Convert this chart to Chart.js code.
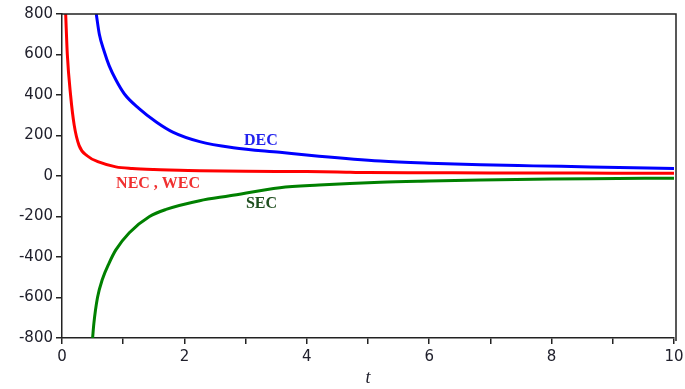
<!DOCTYPE html>
<html>
<head>
<meta charset="utf-8">
<script src="https://cdn.jsdelivr.net/npm/chart.js@4"></script>
<style>
  html, body { margin: 0; padding: 0; background: #fff; }
  #wrap { width: 685px; height: 389px; }
</style>
</head>
<body>
<div id="wrap"><canvas id="energyChart" width="685" height="389"></canvas></div>
<script>
// values
const tNec = [0.06, 0.087, 0.14, 0.2, 0.28, 0.41, 0.61, 0.88, 1.15, 1.5, 1.92, 2.25, 3, 4, 4.5, 5, 6, 7, 8, 9, 10];
const necWec = [800, 600, 400, 250, 150, 100, 68, 45, 37, 32, 29, 26, 23, 22, 20, 17, 16, 15, 15, 14, 14];

const tDec = [0.56, 0.61, 0.69, 0.77, 0.88, 1.02, 1.26, 1.54, 1.81, 2.25, 2.8, 3.56, 4.2, 5.2, 6, 6.84, 7.7, 8.64, 10];
const dec = [800, 700, 615, 545, 475, 405, 333, 267, 217, 170, 140, 117, 98, 74, 63, 55, 50, 45, 37];

const tSec = [0.5, 0.52, 0.58, 0.66, 0.77, 0.88, 1.1, 1.43, 1.7, 2.25, 2.74, 3.56, 4.2, 5.2, 6, 6.84, 8, 8.64, 10];
const sec = [-800, -730, -600, -510, -430, -365, -280, -200, -165, -122, -98, -58, -45, -31, -25, -20, -15, -13, -11];

const xTicks = [0, 2, 4, 6, 8, 10];
const yTicks = [-800, -600, -400, -200, 0, 200, 400, 600, 800];

const curveLabels = [
  { text: "DEC", x: 3.25, y: 172, color: "#2323ee" },
  { text: "NEC , WEC", x: 1.57, y: -40, color: "#f03030" },
  { text: "SEC", x: 3.26, y: -140, color: "#1f4f1f" }
];

function pts(xs, ys) {
  return xs.map((x, i) => ({ x: x, y: ys[i] }));
}

const tickColor = "#20202c";
const tickFont = { family: "'DejaVu Sans', Verdana, sans-serif", size: 15 };

const framePlugin = {
  id: "frame",
  afterDraw(chart) {
    const ctx = chart.ctx;
    const a = chart.chartArea;
    ctx.save();
    ctx.strokeStyle = "#222";
    ctx.lineWidth = 1.5;
    ctx.beginPath();
    ctx.moveTo(a.left - 1, a.top);
    ctx.lineTo(a.right + 2, a.top);
    ctx.lineTo(a.right + 2, a.bottom + 3);
    ctx.stroke();
    // curve names
    ctx.font = "bold 16px 'Liberation Serif', serif";
    ctx.textAlign = "center";
    ctx.textBaseline = "middle";
    curveLabels.forEach(l => {
      ctx.fillStyle = l.color;
      ctx.fillText(l.text, chart.scales.x.getPixelForValue(l.x), chart.scales.y.getPixelForValue(l.y));
    });
    ctx.restore();
  }
};

const lineDefaults = {
  borderWidth: 3,
  pointRadius: 0,
  fill: false,
  cubicInterpolationMode: "monotone"
};

new Chart(document.getElementById("energyChart").getContext("2d"), {
  type: "line",
  data: {
    datasets: [
      Object.assign({ label: "NEC , WEC", data: pts(tNec, necWec), borderColor: "#ff0000" }, lineDefaults),
      Object.assign({ label: "DEC", data: pts(tDec, dec), borderColor: "#0000ff" }, lineDefaults),
      Object.assign({ label: "SEC", data: pts(tSec, sec), borderColor: "#008000" }, lineDefaults)
    ]
  },
  options: {
    responsive: false,
    animation: false,
    layout: { padding: { top: 14, right: 11, left: 0, bottom: 0 } },
    plugins: { legend: { display: false }, tooltip: { enabled: false } },
    scales: {
      x: {
        type: "linear",
        min: 0,
        max: 10,
        afterBuildTicks: s => { s.ticks = [0,1,2,3,4,5,6,7,8,9,10].map(v => ({ value: v })); },
        ticks: {
          color: tickColor,
          font: tickFont,
          padding: 4,
          maxRotation: 0,
          autoSkip: false,
          callback: v => xTicks.includes(v) ? String(v) : ""
        },
        grid: { drawOnChartArea: false, tickLength: 6, color: "#222", lineWidth: 1.5 },
        border: { color: "#222", width: 1.5 },
        title: {
          display: true,
          text: "t",
          color: tickColor,
          font: { family: "'Liberation Serif', serif", size: 18, style: "italic" },
          padding: { top: 0, bottom: 0 }
        },
        afterFit: s => { s.height = 51; s.paddingRight = 0; s.paddingLeft = 0; }
      },
      y: {
        min: -800,
        max: 800,
        afterBuildTicks: s => { s.ticks = yTicks.map(v => ({ value: v })); },
        ticks: {
          color: tickColor,
          font: tickFont,
          padding: 3
        },
        grid: { drawOnChartArea: false, tickLength: 6, color: "#222", lineWidth: 1.5 },
        border: { color: "#222", width: 1.5 },
        afterFit: s => { s.width = 62; s.paddingTop = 0; s.paddingBottom = 0; }
      }
    }
  },
  plugins: [framePlugin]
});
</script>
</body>
</html>
